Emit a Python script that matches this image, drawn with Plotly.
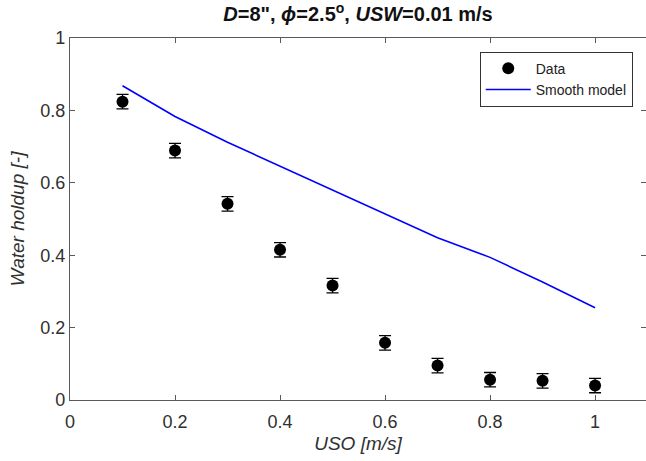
import plotly.graph_objects as go

uso = [0.1, 0.2, 0.3, 0.4, 0.5, 0.6, 0.7, 0.8, 0.9, 1.0]
holdup_data = [0.824, 0.689, 0.542, 0.415, 0.316, 0.158, 0.095, 0.056, 0.053, 0.040]
holdup_err = [0.02, 0.02, 0.02, 0.02, 0.02, 0.02, 0.02, 0.02, 0.02, 0.02]
holdup_model = [0.868, 0.783, 0.712, 0.646, 0.578, 0.514, 0.448, 0.394, 0.326, 0.255]
tick_vals = [0, 0.2, 0.4, 0.6, 0.8, 1]
tick_text = ["0", "0.2", "0.4", "0.6", "0.8", "1"]

fig = go.Figure()
fig.add_trace(go.Scatter(
    x=uso, y=holdup_data, mode="markers", name="Data",
    marker=dict(color="black", size=12),
    error_y=dict(type="data", array=holdup_err, visible=True, color="black",
                 thickness=1.3, width=6),
))
fig.add_trace(go.Scatter(
    x=uso, y=holdup_model, mode="lines", name="Smooth model",
    line=dict(color="rgb(0,0,255)", width=1.6),
))

axis_common = dict(
    showgrid=False, zeroline=False, showline=True, linecolor="#5a5a5a", linewidth=1.3,
    ticks="inside", ticklen=5, tickcolor="#5a5a5a", mirror="ticks",
    tickfont=dict(family="Liberation Sans, Arial, sans-serif", size=18, color="#303030"),
)

fig.update_layout(
    width=646, height=461,
    margin=dict(l=70, r=0, t=38, b=61),
    paper_bgcolor="white", plot_bgcolor="white",
    font=dict(family="Liberation Sans, Arial, sans-serif", color="#222222"),
    title=dict(
        text="<b><i>D</i>=8\", <i>ϕ</i>=2.5<sup>o</sup>, <i>USW</i>=0.01 m/s</b>",
        x=(70 + 646) / 2 / 646, xanchor="center", y=1 - 14 / 461, yanchor="middle",
        font=dict(size=20, color="#111111"),
    ),
    xaxis=dict(range=[0, 1.097], tickvals=tick_vals, ticktext=tick_text,
               ticklabelstandoff=5,
               title=dict(text="<i>USO [m/s]</i>", font=dict(size=19, color="#303030"), standoff=5),
               **axis_common),
    yaxis=dict(range=[0, 1], tickvals=tick_vals, ticktext=tick_text,
               title=dict(text="<i>Water holdup [-]</i>", font=dict(size=19, color="#303030"), standoff=10),
               **axis_common),
    legend=dict(
        x=0.977, xanchor="right", y=0.962, yanchor="top",
        bordercolor="#333333", borderwidth=1, bgcolor="white",
        font=dict(size=14, color="#222222"),
        tracegroupgap=0, itemwidth=45,
    ),
    showlegend=True,
)

fig.write_html("out.html")
